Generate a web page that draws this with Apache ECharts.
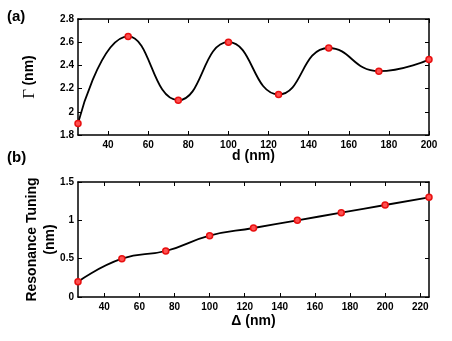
<!DOCTYPE html>
<html>
<head>
<meta charset="utf-8">
<script src="https://cdn.jsdelivr.net/npm/echarts@6/dist/echarts.min.js"></script>
<style>
  html, body { margin: 0; padding: 0; background: #fff; }
  #main { width: 452px; height: 341px; }
</style>
</head>
<body>
<div id="main"></div>
<script>
// data
const dA = [25, 50, 75, 100, 125, 150, 175, 200];
const gammaA = [1.9, 2.65, 2.1, 2.6, 2.15, 2.55, 2.35, 2.45];
const deltaB = [25, 50, 75, 100, 125, 150, 175, 200, 225];
const tuningB = [0.2, 0.5, 0.6, 0.8, 0.9, 1.0, 1.1, 1.2, 1.3];
const ticksA = [40, 60, 80, 100, 120, 140, 160, 180, 200];
const ticksB = [40, 60, 80, 100, 120, 140, 160, 180, 200, 220];

const font = 'Liberation Sans, Arial, sans-serif';
const lab = { color: '#000', fontFamily: font, fontWeight: 'bold', fontSize: 10 };

function xAx(grid, min, max, ticks, name, gap, mirror) {
  return {
    type: 'value', gridIndex: grid, min: min, max: max,
    position: mirror ? 'top' : 'bottom',
    name: mirror ? '' : name, nameLocation: 'middle', nameGap: gap, nameMoveOverlap: false,
    nameTextStyle: { color: '#000', fontFamily: font, fontWeight: 'bold', fontSize: 14 },
    axisLine: { show: true, onZero: false, lineStyle: { color: '#000', width: 1.5 } },
    axisTick: { show: true, inside: true, length: 4, customValues: ticks, lineStyle: { color: '#000' } },
    axisLabel: Object.assign({ show: !mirror, margin: 5, customValues: ticks }, lab),
    splitLine: { show: false }
  };
}

function yAx(grid, min, max, interval, mirror, extra) {
  return Object.assign({
    type: 'value', gridIndex: grid, min: min, max: max, interval: interval,
    position: mirror ? 'right' : 'left', nameMoveOverlap: false,
    axisLine: { show: true, onZero: false, lineStyle: { color: '#000', width: 1.5 } },
    axisTick: { show: true, inside: true, length: 4, lineStyle: { color: '#000' } },
    axisLabel: Object.assign({ show: !mirror, margin: 4 }, lab),
    splitLine: { show: false }
  }, extra || {});
}

const markerStyle = { color: '#ff5050', borderColor: '#e81010', borderWidth: 1.5 };

const option = {
  animation: false,
  backgroundColor: '#fff',
  grid: [
    { left: 78, right: 23, top: 19, height: 116 },
    { left: 78, right: 23, top: 182, height: 115 }
  ],
  xAxis: [
    xAx(0, 25, 200, ticksA, 'd (nm)', 14, false),
    xAx(0, 25, 200, ticksA, '', 0, true),
    xAx(1, 25, 225, ticksB, 'Δ (nm)', 17, false),
    xAx(1, 25, 225, ticksB, '', 0, true)
  ],
  yAxis: [
    yAx(0, 1.8, 2.8, 0.2, false, {
      name: '{g|Γ} {n|(nm)}', nameLocation: 'middle', nameGap: 40,
      nameTextStyle: {
        rich: {
          g: { fontFamily: 'Liberation Serif, Times New Roman, serif', fontSize: 17, color: '#000' },
          n: { fontFamily: font, fontWeight: 'bold', fontSize: 14, color: '#000' }
        }
      }
    }),
    yAx(0, 1.8, 2.8, 0.2, true),
    yAx(1, 0, 1.5, 0.5, false, {
      name: 'Resonance Tuning\n(nm)', nameLocation: 'middle', nameGap: 19,
      nameTextStyle: { color: '#000', fontFamily: font, fontWeight: 'bold', fontSize: 14, lineHeight: 18 }
    }),
    yAx(1, 0, 1.5, 0.5, true)
  ],
  series: [
    {
      type: 'line', xAxisIndex: 0, yAxisIndex: 0, smooth: 0.5,
      data: dA.map((d, i) => [d, gammaA[i]]),
      symbol: 'circle', symbolSize: 6, itemStyle: markerStyle,
      lineStyle: { color: '#000', width: 1.8 }, z: 3
    },
    {
      type: 'line', xAxisIndex: 2, yAxisIndex: 2, smooth: 0.5,
      data: deltaB.map((d, i) => [d, tuningB[i]]),
      symbol: 'circle', symbolSize: 6, itemStyle: markerStyle,
      lineStyle: { color: '#000', width: 1.8 }, z: 3
    }
  ],
  graphic: [
    { type: 'text', left: 7, top: 9, style: { text: '(a)', fill: '#000', font: 'bold 15px ' + font } },
    { type: 'text', left: 7, top: 150, style: { text: '(b)', fill: '#000', font: 'bold 15px ' + font } }
  ]
};

echarts.init(document.getElementById('main')).setOption(option);
</script>
</body>
</html>
